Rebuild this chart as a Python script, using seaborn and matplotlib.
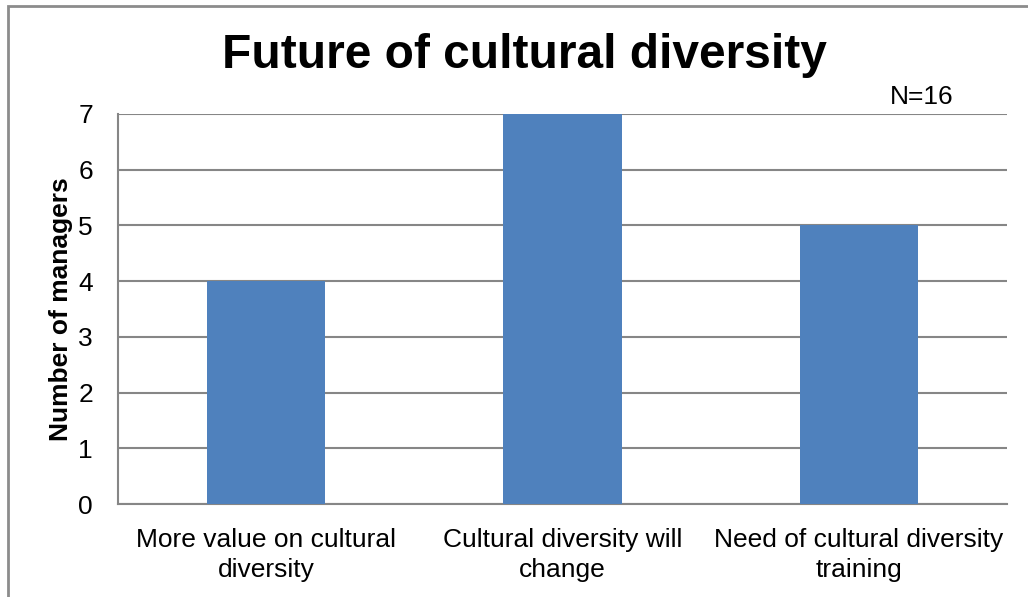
import matplotlib
matplotlib.use("Agg")
import matplotlib.pyplot as plt
from matplotlib.patches import Rectangle
import seaborn as sns
import pandas as pd

categories = [
    "More value on cultural\ndiversity",
    "Cultural diversity will\nchange",
    "Need of cultural diversity\ntraining",
]
managers = [4, 7, 5]
y_ticks = [0, 1, 2, 3, 4, 5, 6, 7]
title = "Future of cultural diversity"
note = "N=16"
y_label = "Number of managers"

sns.set_theme(style="white")
plt.rcParams["font.family"] = ["Liberation Sans", "DejaVu Sans"]
plt.rcParams["text.color"] = "black"
plt.rcParams["axes.labelcolor"] = "black"

df = pd.DataFrame({"category": categories, "managers": managers})

fig = plt.figure(figsize=(10.28, 5.97), dpi=100)
ax = fig.add_axes([118 / 1028, 1 - 504 / 597, (1007 - 118) / 1028, (504 - 114) / 597])

sns.barplot(data=df, x="category", y="managers", color="#4F81BD",
            saturation=1, width=0.4, linewidth=0, ax=ax, zorder=3)

grid_color = "#868686"
ax.set_ylim(0, 7)
ax.set_yticks(y_ticks)
ax.yaxis.grid(True, color=grid_color, linewidth=1.5, zorder=0)
ax.set_axisbelow(True)
for side in ["top", "right"]:
    ax.spines[side].set_visible(False)
for side in ["left", "bottom"]:
    ax.spines[side].set_color(grid_color)
    ax.spines[side].set_linewidth(1.5)

ax.tick_params(axis="y", labelsize=19, length=0, pad=18, colors="black")
ax.tick_params(axis="x", labelsize=19, length=0, pad=17, colors="black")
for lbl in ax.get_xticklabels():
    lbl.set_linespacing(1.35)

ax.set_xlabel("")
ax.set_ylabel(y_label, fontsize=19, fontweight="bold")
ax.yaxis.set_label_coords(-0.051, 0.5)

fig.text(524 / 1028, 1 - 55 / 597, title, ha="center", va="center",
         fontsize=34.5, fontweight="bold")
fig.text(922 / 1028, 1 - 97 / 597, note, ha="center", va="center", fontsize=19)

# Chart-area frame
fig.patches.append(Rectangle((8 / 1028, -0.05), 1.1, 1 - 6 / 597 + 0.05,
                             transform=fig.transFigure, fill=False,
                             edgecolor="#8c8c8c", linewidth=2, clip_on=False))

fig.savefig("out.png", dpi=100)
